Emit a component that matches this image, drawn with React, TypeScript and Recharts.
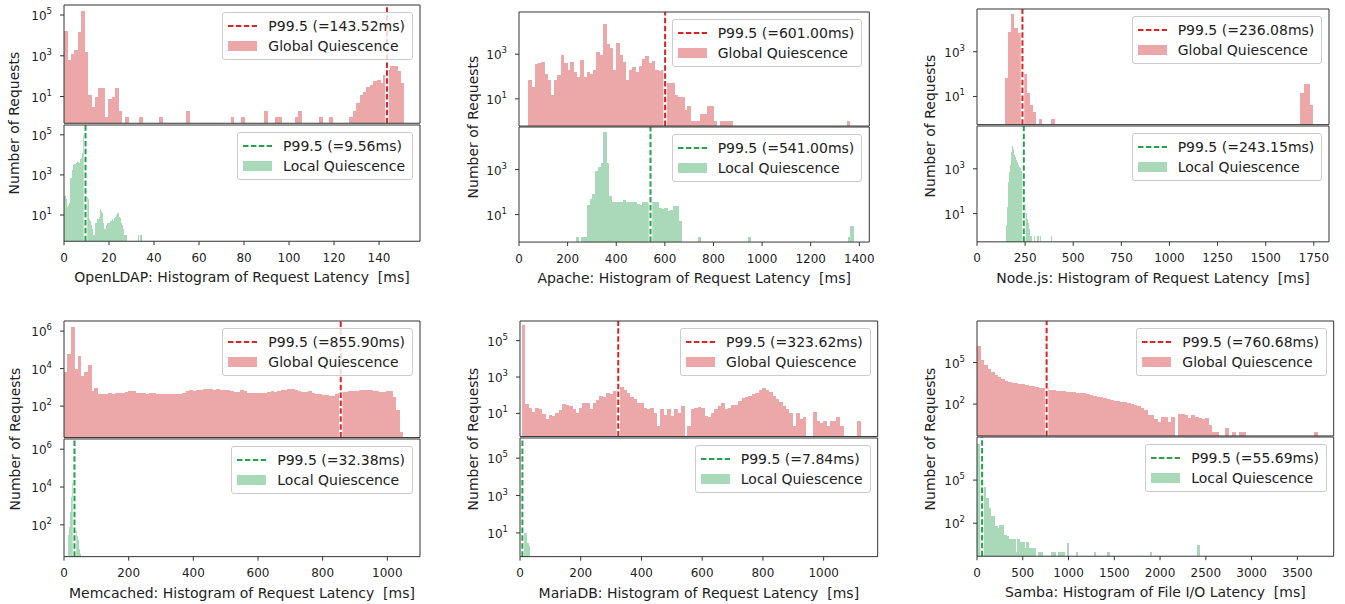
import React from "react";
import { ComposedChart, Bar, XAxis, YAxis, ReferenceLine, Legend } from "recharts";

const FONT = "'DejaVu Sans', 'Liberation Sans', sans-serif";
const INK = "#222";
const SPINE = "#333";
const RED_BAR = "#eca8a9";
const RED_LINE = "#d62728";
const GREEN_BAR = "#a9d9b9";
const GREEN_LINE = "#28a04f";

// ---- OpenLDAP ----
const ldapTicks = [0, 20, 40, 60, 80, 100, 120, 140];
const ldapGlobal = [
  16000, 600, 1200, 2000, 14000, 150000, 1500, 12, 3, 10,
  25, 25, 1, 8, 10, 25, 2, 0, 1, 0,
  0, 0, 1, 0, 0, 0, 0, 0, 1, 0,
  0, 0, 0, 0, 0, 0, 2, 0, 0, 0,
  0, 0, 0, 0, 0, 0, 0, 0, 0, 1,
  0, 0, 1, 0, 0, 0, 0, 0, 0, 2,
  0, 0, 1, 1, 0, 0, 0, 0, 1, 2,
  0, 0, 0, 0, 0, 1, 0, 0, 1, 0,
  0, 0, 0, 0, 1, 2, 5, 12, 17, 30,
  35, 55, 65, 45, 110, 200, 330, 300, 170, 45,
];
const ldapLocal = [
  90, 90, 60, 25, 25, 30, 35, 40, 700, 700,
  1700, 1700, 3000, 3500, 3700, 3500, 4000, 4500, 4500, 4000,
  5000, 6000, 7000, 12000, 20000, 100000, 60000, 12000, 80, 80,
  60, 6, 6, 5, 2, 3, 2, 1, 0, 1,
  4, 4, 6, 6, 5, 8, 20, 15, 12, 5,
  4, 2, 1, 2, 3, 3, 4, 3, 4, 5,
  4, 5, 6, 5, 6, 7, 8, 10, 13, 12,
  8, 6, 7, 4, 3, 2, 1, 1, 0, 1,
  0, 0, 0, 0, 0, 0, 0, 0, 0, 0,
  0, 0, 0, 0, 0, 1, 0, 0, 1, 1,
];

// ---- Apache ----
const apacheTicks = [0, 200, 400, 600, 800, 1000, 1200, 1400];
const apacheGlobal = [
  70, 35, 380, 400, 450, 135, 70, 15, 70, 115,
  900, 400, 200, 450, 160, 100, 540, 100, 160, 130,
  200, 1270, 900, 23000, 3000, 1800, 190, 3200, 900, 450,
  70, 190, 270, 160, 300, 600, 800, 400, 500, 200,
  180, 200, 50, 50, 50, 15, 12, 12, 3, 5,
  1, 1, 1, 2, 2, 5, 5, 1, 0, 1,
  1, 1, 1, 0, 0, 0, 0, 0, 0, 0,
  0, 0, 0, 0, 0, 0, 0, 0, 0, 0,
  0, 0, 0, 0, 0, 0, 0, 0, 0, 0,
  0, 0, 0, 0, 0, 0, 0, 0, 1, 0,
];
const apacheLocal = [
  1, 0, 1, 1, 28, 50, 80, 900, 1300, 2000,
  45000, 2000, 70, 37, 37, 35, 37, 45, 35, 38,
  36, 35, 30, 28, 38, 36, 34, 37, 36, 35,
  20, 18, 20, 15, 16, 25, 25, 5, 0, 0,
  0, 0, 0, 0, 1, 0, 0, 0, 0, 0,
  0, 0, 0, 0, 0, 0, 0, 0, 0, 0,
  0, 0, 1, 0, 0, 0, 0, 0, 0, 0,
  0, 0, 0, 0, 0, 0, 0, 0, 0, 0,
  0, 0, 0, 0, 0, 0, 0, 0, 0, 0,
  0, 0, 0, 0, 0, 0, 0, 0, 1, 3,
];

// ---- Node.js ----
const nodeTicks = [0, 250, 500, 750, 1000, 1250, 1500, 1750];
const nodeGlobal = [
  65, 8000, 50000, 12000, 7000, 1900, 100, 14, 4, 2,
  0, 1, 0, 0, 0, 1, 0, 0, 0, 0,
  0, 0, 0, 0, 0, 0, 0, 0, 0, 0,
  0, 0, 0, 0, 0, 0, 0, 0, 0, 0,
  0, 0, 0, 0, 0, 0, 0, 0, 0, 0,
  0, 0, 0, 0, 0, 0, 0, 0, 0, 0,
  0, 0, 0, 0, 0, 0, 0, 0, 0, 0,
  0, 0, 0, 0, 0, 0, 0, 0, 0, 0,
  0, 0, 0, 0, 0, 0, 0, 0, 0, 0,
  0, 0, 0, 0, 0, 0, 14, 35, 35, 4,
];
const nodeLocal = [
  3, 20, 270, 700, 1500, 5700, 10000, 8000, 4000, 3200,
  2500, 2000, 1500, 1200, 1050, 950, 800, 630, 300, 80,
  30, 11, 6, 4, 2, 2, 1, 1, 0, 0,
  1, 0, 0, 0, 1, 0, 0, 1, 0, 0,
  0, 0, 0, 0, 0, 0, 0, 0, 0, 1,
];

// ---- Memcached ----
const memTicks = [0, 200, 400, 600, 800, 1000];
const memGlobal = [
  6200, 63000, 1700000, 10000, 45000, 4000, 6600, 16000, 640, 940,
  450, 440, 460, 470, 450, 480, 500, 520, 560, 640,
  600, 500, 480, 470, 460, 470, 480, 450, 440, 420,
  430, 440, 420, 430, 460, 520, 600, 700, 650, 720,
  750, 800, 780, 820, 760, 800, 720, 700, 680, 650,
  580, 560, 700, 620, 520, 500, 480, 500, 520, 500,
  560, 600, 580, 600, 720, 760, 800, 770, 700, 620,
  580, 560, 600, 520, 440, 420, 400, 380, 340, 330,
  420, 500, 540, 580, 600, 600, 660, 700, 720, 760,
  700, 640, 600, 560, 580, 620, 640, 290, 60, 4,
];
const memLocal = [30, 80, 150, 500, 3000, 16000, 12000, 5000, 300, 50, 40, 25, 15, 5, 3];

// ---- MariaDB ----
const mariaTicks = [0, 200, 400, 600, 800, 1000];
const mariaGlobal = [
  700000, 35, 19, 12, 19, 17, 9, 5, 8, 7,
  11, 16, 32, 30, 25, 17, 10, 20, 38, 38,
  17, 38, 58, 90, 85, 135, 110, 165, 200, 270,
  190, 135, 85, 63, 38, 38, 20, 17, 20, 11,
  2, 17, 8, 17, 7, 17, 11, 25, 0, 2,
  18, 20, 22, 20, 7, 6, 11, 17, 25, 38,
  17, 20, 30, 30, 47, 70, 80, 95, 110, 135,
  190, 250, 190, 145, 95, 63, 41, 25, 17, 11,
  2, 11, 5, 6, 0, 0, 12, 4, 3, 4,
  2, 4, 4, 6, 2, 0, 0, 0, 0, 4,
];
const mariaLocal = [700000, 3000, 10, 10, 3, 3, 2];

// ---- Samba ----
const sambaTicks = [0, 500, 1000, 1500, 2000, 2500, 3000, 3500];
const sambaGlobal = [
  1600000, 160000, 70000, 36000, 21000, 13500, 9500, 7000, 5000, 4200,
  3500, 3400, 3000, 2600, 2200, 2000, 1900, 1600, 1500, 1450,
  1400, 1100, 1000, 950, 900, 850, 800, 750, 700, 680,
  640, 590, 530, 450, 390, 320, 310, 265, 225, 200,
  180, 155, 150, 140, 117, 105, 85, 70, 55, 40,
  15, 15, 8, 5, 12, 12, 5, 12, 0, 20,
  20, 15, 10, 15, 12, 10, 8, 10, 3, 1,
  1, 0, 0, 2, 0, 1, 0, 1, 1, 0,
  0, 0, 0, 0, 0, 0, 0, 0, 0, 0,
  0, 0, 0, 0, 0, 0, 0, 0, 0, 1,
];
const sambaLocal = [
  35000000, 850000, 380000, 35000, 5500, 1100, 300, 300, 60, 47,
  80, 75, 16, 13, 8, 8, 8, 1, 8, 5,
  5, 2, 5, 2, 2, 2, 0, 1, 1, 0,
  0, 0, 0, 1, 1, 0, 1, 1, 1, 0,
  4, 0, 0, 0, 1, 0, 0, 0, 0, 0,
  0, 0, 1, 0, 0, 0, 0, 0, 1, 0,
  0, 0, 0, 0, 0, 0, 0, 0, 0, 0,
  0, 0, 0, 0, 0, 0, 0, 1, 0, 0,
  0, 0, 0, 0, 0, 0, 0, 0, 0, 0,
  0, 0, 0, 0, 0, 0, 0, 0, 3, 0,
];

type Hist = { start: number; width: number; counts: number[] };

type Panel = {
  xLabel: string;
  x0: number; x1: number; y0: number; ys: number; y1: number; labelX: number;
  xDomain: [number, number]; xTicks: number[];
  yExp: [number, number]; yTicks: number[];
  global: Hist; globalP99: number;
  local: Hist; localP99: number;
};

const panels: Panel[] = [
  {
    xLabel: "OpenLDAP: Histogram of Request Latency\u00a0 [ms]",
    x0: 64, x1: 420, y0: 5, ys: 124, y1: 241, labelX: 14,
    xDomain: [0, 158.2], xTicks: ldapTicks, yExp: [-0.31, 5.49], yTicks: [1e1, 1e3, 1e5],
    global: { start: 0, width: 1.51, counts: ldapGlobal }, globalP99: 143.52,
    local: { start: 0, width: 0.345, counts: ldapLocal }, localP99: 9.56,
  },
  {
    xLabel: "Apache: Histogram of Request Latency\u00a0 [ms]",
    x0: 519, x1: 869.3, y0: 11.7, ys: 126.5, y1: 242.3, labelX: 473,
    xDomain: [0, 1441], xTicks: apacheTicks, yExp: [-0.22, 4.89], yTicks: [1e1, 1e3],
    global: { start: 38, width: 13.37, counts: apacheGlobal }, globalP99: 601.0,
    local: { start: 233, width: 11.42, counts: apacheLocal }, localP99: 541.0,
  },
  {
    xLabel: "Node.js: Histogram of Request Latency\u00a0 [ms]",
    x0: 977.3, x1: 1329.3, y0: 9.3, ys: 125.7, y1: 242.3, labelX: 930,
    xDomain: [0, 1829], xTicks: nodeTicks, yExp: [-0.26, 4.91], yTicks: [1e1, 1e3],
    global: { start: 144, width: 16.01, counts: nodeGlobal }, globalP99: 236.08,
    local: { start: 153, width: 4.7, counts: nodeLocal }, localP99: 243.15,
  },
  {
    xLabel: "Memcached: Histogram of Request Latency\u00a0 [ms]",
    x0: 64, x1: 420, y0: 321, ys: 438.3, y1: 556.7, labelX: 15,
    xDomain: [0, 1101], xTicks: memTicks, yExp: [0.32, 6.54], yTicks: [1e2, 1e4, 1e6],
    global: { start: 0, width: 10.47, counts: memGlobal }, globalP99: 855.9,
    local: { start: 12.5, width: 2.5, counts: memLocal }, localP99: 32.38,
  },
  {
    xLabel: "MariaDB: Histogram of Request Latency\u00a0 [ms]",
    x0: 520, x1: 877.7, y0: 321, ys: 437.3, y1: 556.7, labelX: 473,
    xDomain: [0, 1178], xTicks: mariaTicks, yExp: [-0.27, 6.08], yTicks: [1e1, 1e3, 1e5],
    global: { start: 5, width: 11.15, counts: mariaGlobal }, globalP99: 323.62,
    local: { start: 3, width: 4.25, counts: mariaLocal }, localP99: 7.84,
  },
  {
    xLabel: "Samba: Histogram of File I/O Latency\u00a0 [ms]",
    x0: 977.3, x1: 1334, y0: 321, ys: 436.7, y1: 556.7, labelX: 930,
    xDomain: [0, 3897], xTicks: sambaTicks, yExp: [-0.3, 8.0], yTicks: [1e2, 1e5],
    global: { start: 0, width: 37.15, counts: sambaGlobal }, globalP99: 760.68,
    local: { start: 0, width: 24.5, counts: sambaLocal }, localP99: 55.69,
  },
];

const ML = 60;
const MT = 10;
const MR = 10;
const XH_TOP = 6;
const XH_BOTTOM = 48;

function toRows(h: Hist) {
  return h.counts
    .map((n, i) => ({ x: h.start + (i + 0.5) * h.width, n }))
    .filter((r) => r.n > 0);
}

const LogTick = (props: any) => {
  const { x, y, payload } = props;
  const e = Math.round(Math.log10(payload.value));
  return (
    <text x={x} y={y} dy={5} textAnchor="end" fontFamily={FONT} fontSize={12} fill={INK}>
      10
      <tspan dy={-6} fontSize={8.5}>
        {e}
      </tspan>
    </text>
  );
};

function LegendBox({ color, fill, p99Label, seriesLabel }: { color: string; fill: string; p99Label: string; seriesLabel: string }) {
  const row: React.CSSProperties = { display: "flex", alignItems: "center", height: 20 };
  return (
    <div
      style={{
        background: "rgba(255,255,255,0.8)",
        border: "1px solid #ccc",
        borderRadius: 3,
        padding: "3px 7px 3px 5px",
        fontFamily: FONT,
        fontSize: 14,
        color: INK,
        whiteSpace: "nowrap",
        lineHeight: "20px",
      }}
    >
      <div style={row}>
        <svg width={29} height={10} style={{ display: "block" }}>
          <line x1={0} y1={5} x2={29} y2={5} stroke={color} strokeWidth={2} strokeDasharray="5.5 2.4" />
        </svg>
        <span style={{ marginLeft: 11 }}>{p99Label}</span>
      </div>
      <div style={row}>
        <svg width={29} height={10} style={{ display: "block" }}>
          <rect x={0} y={0} width={29} height={10} fill={fill} />
        </svg>
        <span style={{ marginLeft: 11 }}>{seriesLabel}</span>
      </div>
    </div>
  );
}

type SubProps = {
  left: number; top: number; w: number; h: number;
  hist: Hist; xDomain: [number, number]; xTicks: number[];
  yExp: [number, number]; yTicks: number[];
  p99: number; kind: "global" | "local"; xLabel?: string;
};

function SubPlot(p: SubProps) {
  const bottom = !!p.xLabel;
  const xh = bottom ? XH_BOTTOM : XH_TOP;
  const width = ML + p.w + MR;
  const height = MT + p.h + xh;
  const rows = toRows(p.hist);
  const binPx = (p.hist.width * p.w) / (p.xDomain[1] - p.xDomain[0]);
  const fill = p.kind === "global" ? RED_BAR : GREEN_BAR;
  const lineColor = p.kind === "global" ? RED_LINE : GREEN_LINE;
  const seriesLabel = p.kind === "global" ? "Global Quiescence" : "Local Quiescence";
  const p99Label = `P99.5 (=${p.p99.toFixed(2)}ms)`;
  return (
    <div style={{ position: "absolute", left: p.left - ML, top: p.top - MT }}>
      <ComposedChart
        width={width}
        height={height}
        data={rows}
        margin={{ top: MT - 1, right: MR - 1, bottom: 0, left: 0 }}
        barCategoryGap={0}
        barGap={0}
      >
        <XAxis
          dataKey="x"
          type="number"
          domain={p.xDomain}
          allowDataOverflow
          ticks={p.xTicks}
          interval={0}
          height={xh}
          tickSize={4}
          tickMargin={8}
          tick={bottom ? { fill: INK, fontSize: 12, fontFamily: FONT } : false}
          tickLine={{ stroke: SPINE }}
          axisLine={{ stroke: SPINE }}
          label={
            bottom
              ? { value: p.xLabel, position: "insideBottom", offset: 7, fill: INK, fontSize: 14, fontFamily: FONT }
              : undefined
          }
        />
        <XAxis
          xAxisId="top"
          orientation="top"
          type="number"
          domain={p.xDomain}
          allowDataOverflow
          height={1}
          tick={false}
          tickLine={false}
          axisLine={{ stroke: SPINE }}
        />
        <YAxis
          scale="log"
          type="number"
          domain={[Math.pow(10, p.yExp[0]), Math.pow(10, p.yExp[1])]}
          allowDataOverflow
          ticks={p.yTicks}
          interval={0}
          width={ML}
          tickSize={4}
          tickMargin={8}
          tick={<LogTick />}
          tickLine={{ stroke: SPINE }}
          axisLine={{ stroke: SPINE }}
        />
        <YAxis
          yAxisId="right"
          orientation="right"
          type="number"
          width={1}
          domain={[0, 1]}
          tick={false}
          tickLine={false}
          axisLine={{ stroke: SPINE }}
        />
        <Bar
          dataKey="n"
          isAnimationActive={false}
          shape={(s: any) => (
            <rect x={s.x} y={s.y} width={binPx + 0.5} height={s.height} fill={fill} shapeRendering="crispEdges" />
          )}
        />
        <ReferenceLine x={p.p99} stroke="#ffffff" strokeWidth={3.5} />
        <ReferenceLine x={p.p99} stroke={lineColor} strokeWidth={2} strokeDasharray="5.5 2.4" />
        <Legend
          layout="vertical"
          align="center"
          verticalAlign="middle"
          wrapperStyle={{ top: MT + 7, right: MR + 7, left: "auto", width: "auto" }}
          content={() => <LegendBox color={lineColor} fill={fill} p99Label={p99Label} seriesLabel={seriesLabel} />}
        />
      </ComposedChart>
    </div>
  );
}

export default function App() {
  return (
    <div style={{ position: "absolute", left: 0, top: 0, width: 1345, height: 604, background: "#fff", fontFamily: FONT }}>
      {panels.map((pn, i) => {
        const w = pn.x1 - pn.x0;
        const gap = 0.75;
        return (
          <React.Fragment key={i}>
            <SubPlot
              left={pn.x0}
              top={pn.y0}
              w={w}
              h={pn.ys - gap - pn.y0}
              hist={pn.global}
              xDomain={pn.xDomain}
              xTicks={pn.xTicks}
              yExp={pn.yExp}
              yTicks={pn.yTicks}
              p99={pn.globalP99}
              kind="global"
            />
            <SubPlot
              left={pn.x0}
              top={pn.ys + gap}
              w={w}
              h={pn.y1 - pn.ys - gap}
              hist={pn.local}
              xDomain={pn.xDomain}
              xTicks={pn.xTicks}
              yExp={pn.yExp}
              yTicks={pn.yTicks}
              p99={pn.localP99}
              kind="local"
              xLabel={pn.xLabel}
            />
            <div
              style={{
                position: "absolute",
                left: pn.labelX,
                top: (pn.y0 + pn.y1) / 2,
                transform: "translate(-50%, -50%) rotate(-90deg)",
                fontSize: 14,
                color: INK,
                whiteSpace: "nowrap",
              }}
            >
              Number of Requests
            </div>
          </React.Fragment>
        );
      })}
    </div>
  );
}
